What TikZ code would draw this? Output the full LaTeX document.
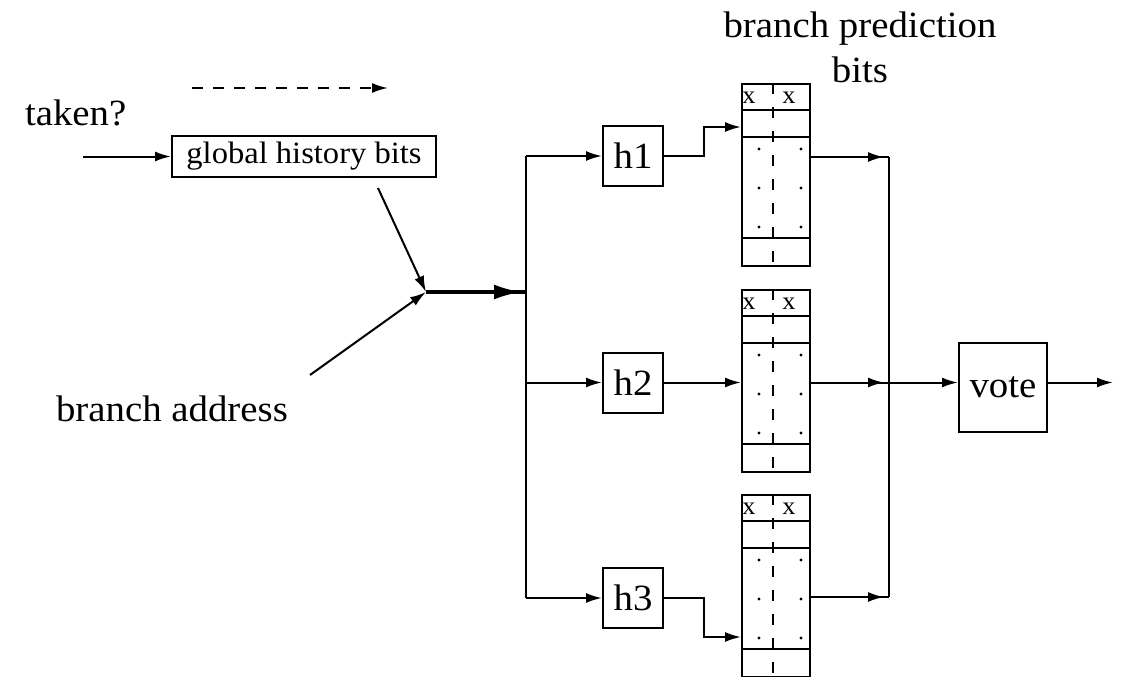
\documentclass[tikz,border=0pt]{standalone}
\usepackage{fontspec}
\setmainfont[FakeStretch=1.05]{Liberation Serif}
\usetikzlibrary{arrows.meta,decorations.markings}

\begin{document}
\begin{tikzpicture}[x=1pt,y=-1pt,line width=2pt,
  arr/.style={-{Latex[length=16pt,width=10pt]}},
  thickarr/.style={line width=3.8pt,postaction={decorate},
    decoration={markings,mark=at position -4pt with {\arrow{Latex[length=28pt,width=15pt]}}}},
  arrmid/.style={postaction={decorate},
    decoration={markings,mark=at position -5pt with {\arrow{Latex[length=16pt,width=10pt]}}}},
  lbl/.style={font=\fontsize{37}{46}\selectfont,inner sep=0pt},
  hbox/.style={draw,minimum width=60pt,minimum height=60pt,inner sep=0pt,
    font=\fontsize{37}{40}\selectfont},
  tab/.style={draw,minimum width=68pt,minimum height=182pt,inner sep=0pt},
  xlab/.style={font=\fontsize{25}{25}\selectfont,inner sep=0pt}]

\fill[white] (0,0) rectangle (1130,677);
\useasboundingbox (0,0) rectangle (1130,677);

% labels
\node[lbl,anchor=base west] (taken) at (24,125) {taken?};
\node[lbl,anchor=base west] (baddr) at (55,421) {branch address};
\node[lbl,align=center,anchor=base] (bpb) at (860,83) {branch prediction\\bits};

% dashed legend arrow
\coordinate (d0) at (192,88);
\coordinate (d1) at (388,88);
\draw[arr,dash pattern=on 11pt off 10pt] (d0) -- (d1);

% global history register
\node[draw,minimum width=264pt,minimum height=41pt,inner sep=0pt,
  font=\fontsize{31}{34}\selectfont] (gh) at (304,156.5) {global history bits};
\coordinate (tin) at (83,156.5);
\draw[arr] (tin) -- (gh.west);

% merge of history and address
\coordinate (ghs) at (378,188);
\coordinate (bas) at (310,375);
\coordinate (m) at (426,292);
\coordinate (bus) at (526,292);
\draw[arr] (ghs) -- (m);
\draw[arr] (bas) -- (m);
\draw[thickarr] (m) -- (bus);

% hash functions
\node[hbox] (h1) at (633,156) {h1};
\node[hbox] (h2) at (633,382.5) {h2};
\node[hbox] (h3) at (633,598) {h3};
\coordinate (b1) at (526,156);
\coordinate (b2) at (526,382.5);
\coordinate (b3) at (526,598);
\draw (b1) -- (b3);
\draw[arr] (b1) -- (h1.west);
\draw[arr] (b2) -- (h2.west);
\draw[arr] (b3) -- (h3.west);

% prediction tables
\foreach \i/\t in {1/83,2/289,3/494}{
  \node[tab,anchor=north west] (t\i) at (741,\t) {};
  \draw (741,\t+27) -- ++(68,0);
  \draw (741,\t+54) -- ++(68,0);
  \draw (741,\t+155) -- ++(68,0);
  \draw[dash pattern=on 11pt off 13pt] (773,\t) -- (773,\t+182);
  \node[xlab] at (749,\t+15) {x};
  \node[xlab] at (789,\t+15) {x};
  \foreach \d in {66,105,144}{
    \fill (759,\t+\d) circle (1.7);
    \fill (801,\t+\d) circle (1.7);
  }
}

% hash outputs into tables
\coordinate (t1in) at (741,127);
\coordinate (t3in) at (741,637);
\draw[arr] (h1.east) -- ++(40,0) |- (t1in);
\draw[arr] (h2.east) -- (h2.east -| t2.west);
\draw[arr] (h3.east) -- ++(40,0) |- (t3in);

% table outputs to the voter
\coordinate (o1) at (809,157);
\coordinate (o2) at (809,382.5);
\coordinate (o3) at (809,597);
\coordinate (c1) at (889,157);
\coordinate (c2) at (889,382.5);
\coordinate (c3) at (889,597);
\draw (c1) -- (c3);
\draw[arrmid] (o1) -- (c1);
\draw[arrmid] (o2) -- (c2);
\draw[arrmid] (o3) -- (c3);

\node[draw,minimum width=88pt,minimum height=89pt,inner sep=0pt,
  font=\fontsize{37}{40}\selectfont] (vote) at (1003,387.5) {vote};
\coordinate (out) at (1113,382.5);
\draw[arr] (c2) -- (c2 -| vote.west);
\draw[arr] (c2 -| vote.east) -- (out);
\end{tikzpicture}
\end{document}
